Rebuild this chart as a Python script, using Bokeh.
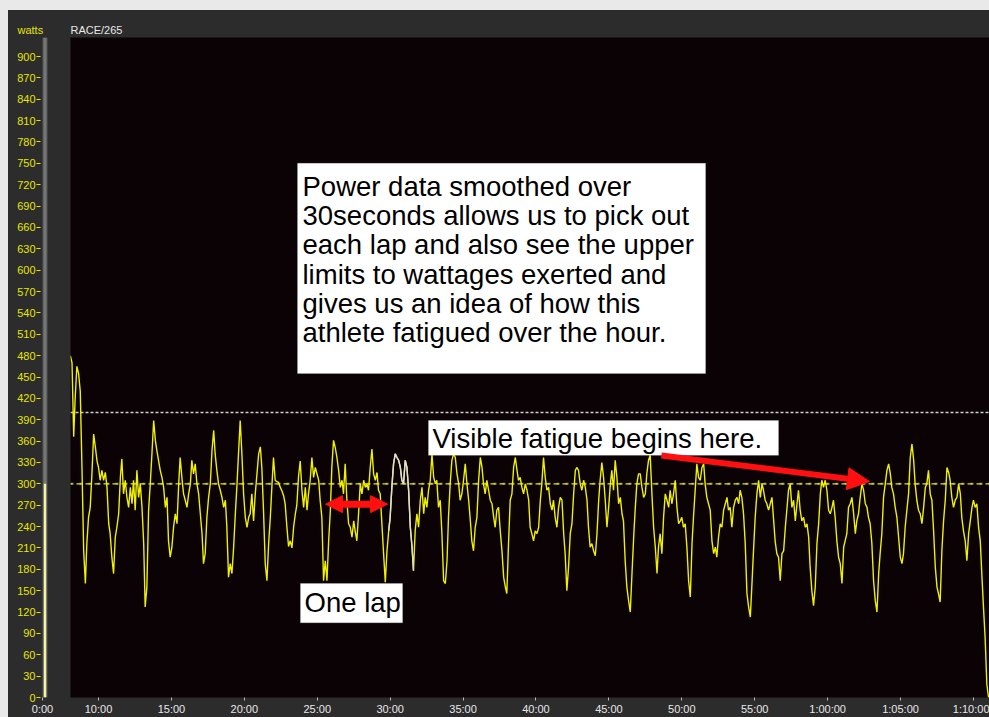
from bokeh.plotting import figure
from bokeh.models import (Range1d, FixedTicker, Span, BoxAnnotation, Label,
                          Arrow, NormalHead, Title, ColumnDataSource, Spacer)
from bokeh.layouts import row, column
from bokeh.embed import file_html
from bokeh.resources import INLINE

# ---------------- data (elapsed seconds, 30 s smoothed power in watts) ----------------
elapsed_s = [
    484, 491, 498, 504, 511, 518,
    525, 532, 539, 546, 552, 559, 566,
    573, 580, 587, 594, 600, 607, 614,
    621, 628, 635, 642, 648, 655, 662,
    669, 676, 683, 690, 696, 703, 710,
    717, 724, 731, 738, 744, 751, 758,
    765, 772, 779, 786, 792, 799, 806,
    813, 820, 827, 834, 840, 847, 854,
    861, 868, 875, 882, 888, 895, 902,
    909, 916, 923, 930, 936, 943, 950,
    957, 964, 971, 978, 984, 991, 998,
    1005, 1012, 1019, 1026, 1032, 1039, 1046,
    1053, 1060, 1067, 1074, 1080, 1087, 1094,
    1101, 1108, 1115, 1122, 1128, 1135, 1142,
    1149, 1156, 1163, 1170, 1176, 1183, 1190,
    1197, 1204, 1211, 1218, 1224, 1231, 1238,
    1245, 1252, 1259, 1266, 1272, 1279, 1286,
    1293, 1300, 1307, 1314, 1320, 1327, 1334,
    1341, 1348, 1355, 1362, 1368, 1375, 1382,
    1389, 1396, 1403, 1410, 1416, 1423, 1430,
    1437, 1444, 1451, 1458, 1464, 1471, 1478,
    1485, 1492, 1499, 1506, 1512, 1519, 1526,
    1533, 1540, 1547, 1554, 1560, 1567, 1574,
    1581, 1588, 1595, 1602, 1608, 1615, 1622,
    1629, 1636, 1643, 1650, 1656, 1663, 1670,
    1677, 1684, 1691, 1698, 1704, 1711, 1718,
    1725, 1732, 1739, 1746, 1752, 1759, 1766,
    1773, 1780, 1787, 1794, 1800, 1807, 1814,
    1821, 1828, 1835, 1842, 1848, 1855, 1862,
    1869, 1876, 1883, 1890, 1896, 1903, 1910,
    1917, 1924, 1931, 1938, 1944, 1951, 1958,
    1965, 1972, 1979, 1986, 1992, 1999, 2006,
    2013, 2020, 2027, 2034, 2040, 2047, 2054,
    2061, 2068, 2075, 2082, 2088, 2095, 2102,
    2109, 2116, 2123, 2130, 2136, 2143, 2150,
    2157, 2164, 2171, 2178, 2184, 2191, 2198,
    2205, 2212, 2219, 2226, 2232, 2239, 2246,
    2253, 2260, 2267, 2274, 2280, 2287, 2294,
    2301, 2308, 2315, 2322, 2328, 2335, 2342,
    2349, 2356, 2363, 2370, 2376, 2383, 2390,
    2397, 2404, 2411, 2418, 2424, 2431, 2438,
    2445, 2452, 2459, 2466, 2472, 2479, 2486,
    2493, 2500, 2507, 2514, 2520, 2527, 2534,
    2541, 2548, 2555, 2562, 2568, 2575, 2582,
    2589, 2596, 2603, 2610, 2616, 2623, 2630,
    2637, 2644, 2651, 2658, 2664, 2671, 2678,
    2685, 2692, 2699, 2706, 2712, 2719, 2726,
    2733, 2740, 2747, 2754, 2760, 2767, 2774,
    2781, 2788, 2795, 2802, 2808, 2815, 2822,
    2829, 2836, 2843, 2850, 2856, 2863, 2870,
    2877, 2884, 2891, 2898, 2904, 2911, 2918,
    2925, 2932, 2939, 2946, 2952, 2959, 2966,
    2973, 2980, 2987, 2994, 3000, 3007, 3014,
    3021, 3028, 3035, 3042, 3048, 3055, 3062,
    3069, 3076, 3083, 3090, 3096, 3103, 3110,
    3117, 3124, 3131, 3138, 3144, 3151, 3158,
    3165, 3172, 3179, 3186, 3192, 3199, 3206,
    3213, 3220, 3227, 3234, 3240, 3247, 3254,
    3261, 3268, 3275, 3282, 3288, 3295, 3302,
    3309, 3316, 3323, 3330, 3336, 3343, 3350,
    3357, 3364, 3371, 3378, 3384, 3391, 3398,
    3405, 3412, 3419, 3426, 3432, 3439, 3446,
    3453, 3460, 3467, 3474, 3480, 3487, 3494,
    3501, 3508, 3515, 3522, 3528, 3535, 3542,
    3549, 3556, 3563, 3570, 3576, 3583, 3590,
    3597, 3604, 3611, 3618, 3624, 3631, 3638,
    3645, 3652, 3659, 3666, 3672, 3679, 3686,
    3693, 3700, 3707, 3714, 3720, 3727, 3734,
    3741, 3748, 3755, 3762, 3768, 3775, 3782,
    3789, 3796, 3803, 3810, 3816, 3823, 3830,
    3837, 3844, 3851, 3858, 3864, 3871, 3878,
    3885, 3892, 3899, 3906, 3912, 3919, 3926,
    3933, 3940, 3947, 3954, 3960, 3967, 3974,
    3981, 3988, 3995, 4002, 4008, 4015, 4022,
    4029, 4036, 4043, 4050, 4056, 4063, 4070,
    4077, 4084, 4091, 4098, 4104, 4111, 4118,
    4125, 4132, 4139, 4146, 4152, 4159, 4166,
    4173, 4180, 4187, 4194, 4200, 4207, 4214,
    4221, 4228, 4235, 4242, 4248, 4255, 4262,
]

watts = [
    # 8:04 - 23:50
    480, 470, 366, 420, 465, 455, 430, 323, 206, 160,
    216, 253, 267, 314, 370, 352, 332, 323, 305, 319,
    305, 316, 295, 244, 230, 197, 174, 225, 240, 258,
    309, 335, 286, 305, 281, 267, 295, 272, 305, 263,
    319, 281, 300, 267, 216, 127, 155, 262, 300, 343,
    389, 361, 347, 333, 319, 309, 295, 267, 281, 220,
    197, 211, 240, 258, 244, 300, 337, 309, 286, 277,
    267, 286, 300, 333, 314, 328, 300, 286, 258, 230,
    188, 202, 253, 281, 300, 347, 375, 342, 319, 300,
    291, 281, 267, 277, 240, 169, 188, 174, 211, 258,
    300, 342, 389, 342, 286, 253, 239, 253, 258, 286,
    248, 286, 314, 342, 352, 323, 262, 188, 164, 216,
    253, 300, 337, 305, 303, 302, 295, 290, 283, 272,
    240, 212, 220, 210, 240, 258, 270, 310, 332,
    # 23:50 - 39:30
    291, 267, 295, 263, 286, 305, 337, 309, 323, 314,
    305, 277, 253, 164, 192, 164, 220, 263, 323, 361,
    351, 337, 319, 295, 305, 286, 328, 277, 244, 239,
    225, 248, 234, 220, 258, 300, 286, 305, 295, 300,
    291, 323, 349, 314, 305, 316, 291, 286, 244, 202,
    162, 206, 234, 253, 295, 328, 342, 337, 333, 323,
    305, 300, 333, 323, 291, 239, 211, 178, 234, 258,
    239, 277, 295, 258, 281, 267, 291, 305, 342, 309,
    300, 305, 267, 277, 230, 164, 160, 192, 253, 300,
    333, 342, 337, 314, 300, 277, 286, 305, 328, 300,
    277, 248, 220, 206, 239, 253, 305, 337, 323, 300,
    286, 305, 291, 277, 272, 253, 239, 263, 267, 234,
    206, 169, 155, 146, 216, 277, 286, 323, 337, 319,
    305, 309, 295, 286, 300, 291, 277,
    # 39:30 - 55:15
    239, 230, 220, 234, 230, 239, 277, 300, 337, 309,
    291, 295, 272, 263, 277, 253, 239, 267, 281, 277,
    230, 202, 150, 183, 230, 244, 286, 319, 323, 319,
    300, 291, 305, 295, 277, 239, 211, 216, 206, 199,
    230, 277, 305, 330, 309, 277, 239, 267, 300, 319,
    291, 333, 309, 272, 281, 258, 248, 192, 155, 136,
    120, 174, 225, 263, 300, 314, 314, 295, 281, 286,
    314, 333, 340, 286, 239, 211, 174, 211, 230, 202,
    253, 286, 277, 267, 291, 272, 286, 305, 267, 244,
    248, 253, 239, 244, 211, 164, 141, 216, 253, 291,
    328, 309, 305, 323, 328, 300, 281, 272, 263, 220,
    202, 211, 197, 225, 244, 239, 263, 272, 281, 263,
    267, 239, 267, 277, 281, 272, 291, 281, 258, 216,
    146, 127, 113, 155, 206, 253, 286, 305,
    # 55:15 - 1:11:00
    281, 300, 291, 277, 272, 263, 272, 281, 248, 220,
    202, 197, 164, 202, 206, 239, 263, 291, 300, 267,
    277, 248, 272, 291, 263, 248, 253, 239, 244, 225,
    183, 150, 129, 155, 216, 244, 286, 305, 295, 305,
    291, 263, 258, 267, 277, 253, 220, 197, 188, 160,
    211, 220, 230, 267, 272, 281, 258, 230, 248, 258,
    281, 300, 291, 272, 267, 253, 244, 216, 164, 136,
    120, 174, 202, 230, 281, 300, 319, 328, 314, 295,
    286, 267, 253, 225, 197, 188, 202, 239, 263, 286,
    337, 356, 333, 300, 277, 263, 258, 244, 267, 295,
    300, 319, 286, 277, 234, 183, 155, 146, 134, 206,
    248, 277, 323, 316, 305, 281, 267, 277, 281, 300,
    286, 253, 234, 220, 192, 230, 248, 267, 277, 267,
    272, 239, 220, 169, 122, 84, 19, 0,
]

x_tick_min = [10, 15, 20, 25, 30, 35, 40, 45, 50, 55, 60, 65, 70]
x_tick_labels = ["10:00", "15:00", "20:00", "25:00", "30:00", "35:00", "40:00",
                 "45:00", "50:00", "55:00", "1:00:00", "1:05:00", "1:10:00"]
y_ticks = [0, 30, 60, 90, 120, 150, 180, 210, 240, 270, 300, 330, 360, 390, 420,
           450, 480, 510, 540, 570, 600, 630, 660, 690, 720, 750, 780, 810, 840,
           870, 900]

upper_line_w = 400
mid_line_w = 300
gauge_w = 300
highlight_start_s = 1790
highlight_end_s = 1900

# ---------------- styling ----------------
FONT = "Liberation Sans"
BORDER = "#2c2c2c"
FRAME = "#0a0204"
YELLOW = "#f0f000"
AXIS_YELLOW = "#e6e600"
WINDOW = "#e9e9e9"

n = min(len(elapsed_s), len(watts))
minutes = [s / 60.0 for s in elapsed_s[:n]]
src = ColumnDataSource(data=dict(t=minutes, w=watts[:n]))
hl_t = [m for m, s in zip(minutes, elapsed_s[:n]) if highlight_start_s <= s <= highlight_end_s]
hl_w = [w for w, s in zip(watts[:n], elapsed_s[:n]) if highlight_start_s <= s <= highlight_end_s]

y_rng = Range1d(0, 926.7)
TOP = 27
BOTTOM = 20
H = 707

# ---------------- left gauge / watts axis ----------------
g = figure(width=62, height=H, x_range=Range1d(-2, 28), y_range=y_rng,
           output_backend="svg", toolbar_location=None,
           min_border_left=32, min_border_right=0,
           min_border_top=TOP, min_border_bottom=BOTTOM)
g.background_fill_color = BORDER
g.border_fill_color = BORDER
g.outline_line_color = None
g.grid.visible = False
g.title = Title(text="watts", align="left", offset=-23, standoff=3,
                text_color=AXIS_YELLOW, text_font=FONT,
                text_font_size="11px", text_font_style="normal")
g.quad(left=[0.4], right=[4.6], bottom=[0], top=[y_rng.end],
       fill_color="#767676", line_color="#4a4a4a")
g.quad(left=[1.3], right=[3.7], bottom=[0], top=[gauge_w],
       fill_color="#f2f2a0", line_color=None)

ya = g.yaxis[0]
ya.ticker = FixedTicker(ticks=y_ticks)
ya.axis_line_color = None
ya.major_tick_in = 0
ya.major_tick_out = 4
ya.major_tick_line_color = AXIS_YELLOW
ya.minor_tick_line_color = None
ya.major_label_standoff = 1
ya.major_label_text_color = AXIS_YELLOW
ya.major_label_text_font = FONT
ya.major_label_text_font_size = "11px"

xa = g.xaxis[0]
xa.ticker = FixedTicker(ticks=[0])
xa.major_label_overrides = {0: "0:00"}
xa.axis_line_color = None
xa.major_tick_in = 0
xa.major_tick_out = 3
xa.major_tick_line_color = "#bbbbbb"
xa.minor_tick_line_color = None
xa.major_label_standoff = 2
xa.major_label_text_color = "#e8e8e8"
xa.major_label_text_font = FONT
xa.major_label_text_font_size = "11px"

# ---------------- main power chart ----------------
p = figure(width=919, height=H, x_range=Range1d(8.08, 71.1), y_range=y_rng,
           y_axis_location=None, output_backend="svg", toolbar_location=None,
           min_border_left=0, min_border_right=0,
           min_border_top=TOP, min_border_bottom=BOTTOM)
p.background_fill_color = FRAME
p.border_fill_color = BORDER
p.outline_line_color = None
p.grid.visible = False
p.title = Title(text="RACE/265", align="left", standoff=3,
                text_color="#e8e8e8", text_font=FONT,
                text_font_size="11px", text_font_style="normal")

pa = p.xaxis[0]
pa.ticker = FixedTicker(ticks=x_tick_min)
pa.major_label_overrides = {t: lab for t, lab in zip(x_tick_min, x_tick_labels)}
pa.axis_line_color = None
pa.major_tick_in = 0
pa.major_tick_out = 3
pa.major_tick_line_color = "#bbbbbb"
pa.minor_tick_line_color = None
pa.major_label_standoff = 2
pa.major_label_text_color = "#e8e8e8"
pa.major_label_text_font = FONT
pa.major_label_text_font_size = "11px"

p.add_layout(Span(location=upper_line_w, dimension="width", line_color="#cfcfcf",
                  line_dash="3 2", line_width=1.5, level="underlay"))
p.add_layout(Span(location=mid_line_w, dimension="width", line_color="#8c8c80",
                  line_dash="3 6", line_width=2, level="underlay"))
p.add_layout(Span(location=mid_line_w, dimension="width", line_color="#e6e600",
                  line_dash="5 4", line_dash_offset=3, line_width=1.2, level="underlay"))

p.line("t", "w", source=src, line_color=YELLOW, line_width=1.4)
p.line(hl_t, hl_w, line_color="#dcdce8", line_width=1.4)

# ---------------- annotations ----------------
def text_box(left, right, top, bottom):
    p.add_layout(BoxAnnotation(left=left, right=right, top=top, bottom=bottom,
                               fill_color="white", fill_alpha=1.0,
                               line_color="#d0d0d0", line_width=1))

def text_line(x, y, s, size="27.5px"):
    p.add_layout(Label(x=x, y=y, text=s, text_font=FONT, text_font_size=size,
                       text_color="black", text_baseline="middle",
                       text_align="left"))

text_box(23.65, 51.63, 750, 455)
note_lines = ["Power data smoothed over",
              "30seconds allows us to pick out",
              "each lap and also see the upper",
              "limits to wattages exerted and",
              "gives us an idea of how this",
              "athlete fatigued over the hour."]
note_centres = [717.5, 676.5, 635.5, 594.5, 553.5, 512.5]
for s, yc in zip(note_lines, note_centres):
    text_line(23.99, yc, s)

text_box(32.63, 56.63, 389, 340)
text_line(32.9, 363.7, "Visible fatigue begins here.")

text_box(23.85, 30.85, 160, 105)
text_line(24.13, 133.4, "One lap")

red = "#ff1010"
p.add_layout(Arrow(start=NormalHead(size=17, fill_color=red, line_color=red),
                   end=NormalHead(size=17, fill_color=red, line_color=red),
                   x_start=25.57, y_start=271.5, x_end=29.82, y_end=271.5,
                   line_color=red, line_width=7))
p.add_layout(Arrow(end=NormalHead(size=22, fill_color=red, line_color=red),
                   x_start=48.6, y_start=339.8, x_end=62.87, y_end=303.3,
                   line_color=red, line_width=6))

body = row(Spacer(width=8, height=H, styles={"background-color": WINDOW}), g, p,
           styles={"background-color": BORDER})
layout = column(Spacer(width=989, height=10, styles={"background-color": WINDOW}), body,
                styles={"background-color": BORDER})
open("out.html", "w").write(file_html(layout, INLINE, title="RACE/265 power"))
